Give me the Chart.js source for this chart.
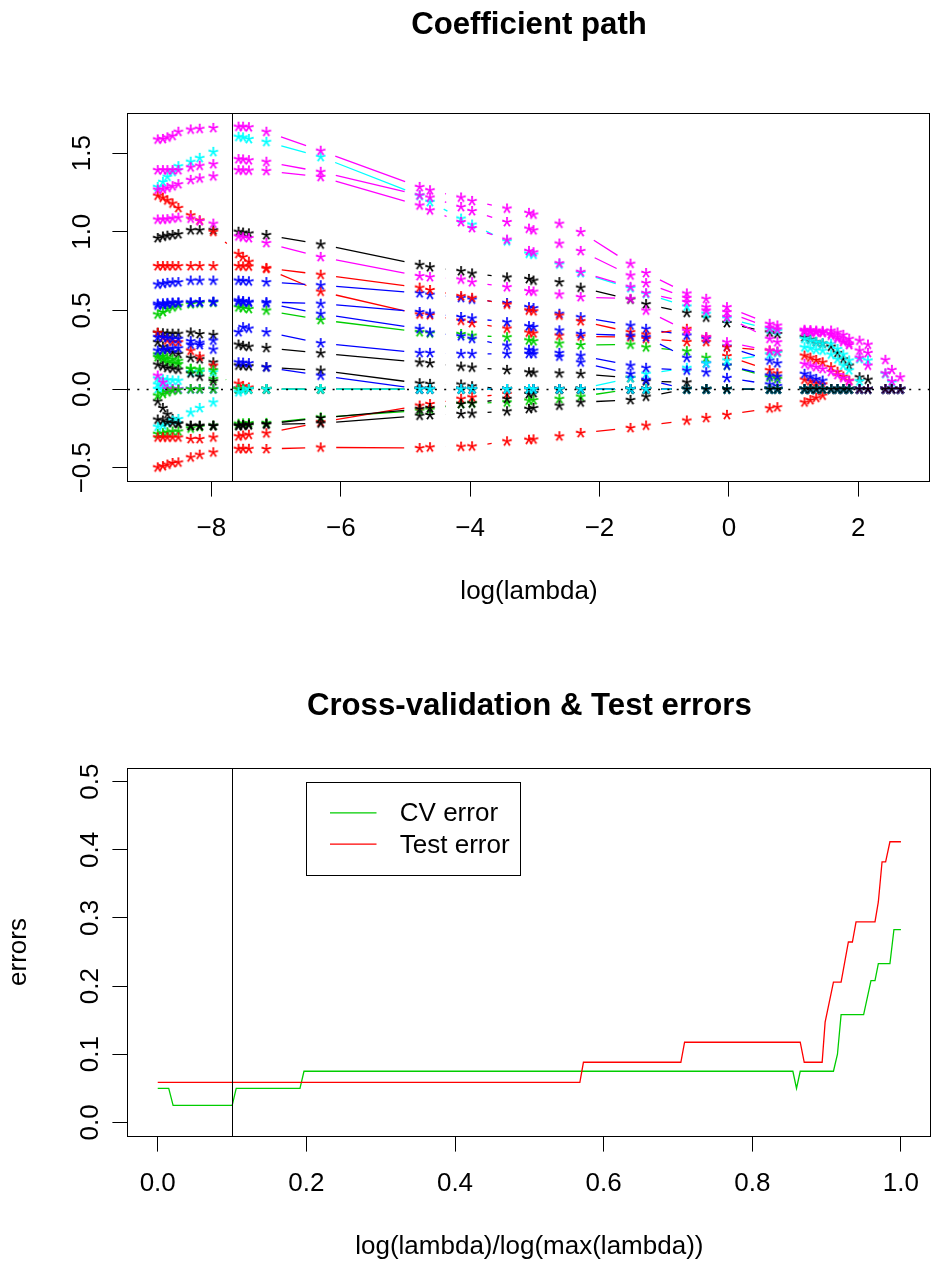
<!DOCTYPE html>
<html><head><meta charset="utf-8">
<script src="https://cdn.jsdelivr.net/npm/chart.js@4.4.1/dist/chart.umd.min.js"></script>
<style>
html,body{margin:0;padding:0;background:#fff;overflow:hidden;width:932px;height:1262px;}
#wrap{position:relative;width:932px;height:1262px;overflow:hidden;background:#fff;}
canvas{position:absolute;left:0;}
#c1{top:0;} #c2{top:631px;}
</style></head><body><div id="wrap"><canvas id="c1" width="936" height="631"></canvas><canvas id="c2" width="936" height="640"></canvas></div>
<script>
// ---------------- DATA : coefficient path ----------------
const logLambda = [-8.83,-8.75,-8.68,-8.60,-8.51, -8.32,-8.18,-7.97, -7.58,-7.51,-7.42, -7.15, -6.31, -4.78,-4.62, -4.14,-3.97, -3.43, -3.09,-3.02, -2.62, -2.29, -1.52, -1.28, -0.65, -0.35, -0.03, 0.63,0.75, 1.17,1.26,1.35,1.45, 1.58,1.68,1.77,1.86, 2.02,2.15, 2.42,2.52,2.65];

const coef01 = [0.96,0.97,0.975,0.98,0.985, 1.01,1.01,1.01, 1.00,0.995,0.99, 0.98, 0.92, 0.79,0.775, 0.75,0.735, 0.71, 0.70,0.69, 0.68, 0.645, 0.57, 0.54, 0.485, 0.455, 0.42, 0.36,0.35, 0.33,0.315,0.30,0.29, 0.27,0.23,0.19,0.15, 0.075,0.06, 0,0,0];
const coef02 = [1.23,1.217,1.20,1.18,1.152, 1.105,1.073,1.00, 0.86,0.84,0.81, 0.765, 0.62, 0.475,0.47, 0.435,0.42, 0.385, 0.36,0.355, 0.34, 0.335, 0.33, 0.32, 0.30, 0.30, 0.21, 0.12,0.10, 0.06,0.05,0.04,0.03, 0,0,0,0, 0,0, 0,0,0];
const coef03 = [0.475,0.49,0.51,0.52,0.53, 0.54,0.545,0.55, 0.52,0.515,0.51, 0.50, 0.44, 0.362,0.355, 0.35,0.34, 0.33, 0.31,0.305, 0.29, 0.28, 0.283, 0.266, 0.241, 0.199, 0.15, 0.075,0.065, 0,0,0,0, 0,0,0,0, 0,0, 0,0,0];
const coef04 = [0.665,0.67,0.675,0.678,0.68, 0.69,0.69,0.69, 0.69,0.688,0.685, 0.68, 0.66, 0.61,0.60, 0.58,0.57, 0.547, 0.521,0.515, 0.479, 0.457, 0.404, 0.383, 0.341, 0.32, 0.27, 0.182,0.164, 0.097,0.08,0.065,0.054, 0,0,0,0, 0,0, 0,0,0];
const coef05 = [1.285,1.317,1.35,1.381,1.417, 1.445,1.47,1.508, 1.604,1.60,1.59, 1.572, 1.476, 1.23,1.19, 1.084,1.046, 0.94, 0.861,0.855, 0.793, 0.738, 0.642, 0.606, 0.525, 0.479, 0.45, 0.38,0.37, 0.32,0.31,0.30,0.29, 0.288,0.255,0.22,0.182, 0.192,0.182, 0.097,0.043,0];
const coef06 = [1.587,1.59,1.60,1.61,1.636, 1.65,1.655,1.66, 1.668,1.668,1.665, 1.636, 1.515, 1.285,1.264, 1.218,1.196, 1.148, 1.12,1.11, 1.052, 0.999, 0.797, 0.738, 0.608, 0.574, 0.521, 0.415,0.404, 0.377,0.375,0.372,0.37, 0.372,0.36,0.345,0.32, 0.308,0.283, 0.186,0.122,0.075];
const coef07 = [0.358,0.355,0.352,0.352,0.352, 0.36,0.35,0.345, 0.283,0.275,0.27, 0.262, 0.228, 0.17,0.165, 0.143,0.137, 0.122, 0.107,0.105, 0.10, 0.097, 0.071, 0.05, 0.043, 0, 0, 0,0, 0,0,0,0, 0,0,0,0, 0,0, 0,0,0];
const coef08 = [0.782,0.782,0.782,0.782,0.782, 0.782,0.782,0.782, 0.782,0.78,0.78, 0.77, 0.727, 0.645,0.63, 0.591,0.58, 0.538, 0.50,0.495, 0.468, 0.432, 0.362, 0.347, 0.383, 0.33, 0.266, 0.245,0.235, 0.213,0.20,0.185,0.17, 0.139,0.11,0.08,0.054, 0,0, 0,0,0];
const coef09 = [0.203,0.19,0.175,0.165,0.16, 0.128,0.11,0.065, 0,0,0, 0, 0, 0,0, 0,0, 0, 0,0, 0, 0, 0, 0, 0, 0, 0, 0,0, 0,0,0,0, 0,0,0,0, 0,0, 0,0,0];
const coef10 = [0.543,0.545,0.548,0.55,0.55, 0.55,0.552,0.555, 0.564,0.56,0.555, 0.553, 0.543, 0.49,0.48, 0.458,0.45, 0.425, 0.40,0.395, 0.373, 0.351, 0.34, 0.33, 0.199, 0.164, 0.15, 0.086,0.08, 0,0,0,0, 0,0,0,0, 0,0, 0,0,0];
const coef11 = [0,0,0,0,0, 0,0,0, 0,0,0, 0, 0, 0,0, 0,0, 0, 0,0, 0, 0, 0.07, 0.097, 0.135, 0.164, 0.182, 0.22,0.23, 0.266,0.26,0.25,0.245, 0.22,0.19,0.15,0.12, 0.05,0, 0,0,0];
const coef12 = [1.392,1.392,1.392,1.392,1.392, 1.41,1.42,1.43, 1.462,1.46,1.455, 1.445, 1.381, 1.232,1.218, 1.158,1.132, 1.062, 1.02,1.01, 0.925, 0.878, 0.723, 0.674, 0.58, 0.521, 0.489, 0.39,0.38, 0.37,0.368,0.365,0.362, 0.35,0.33,0.31,0.29, 0.245,0.23, 0.10,0.05,0];
const coef13 = [0.298,0.27,0.25,0.235,0.224, 0.199,0.19,0.17, 0.15,0.148,0.145, 0.139, 0.118, 0.037,0.033, 0.029,0.018, 0, 0,0, 0, 0, 0, 0, 0, 0, 0, 0,0, 0,0,0,0, 0,0,0,0, 0,0, 0,0,0];
const coef14 = [0.358,0.33,0.31,0.30,0.298, 0.245,0.207,0.15, 0.035,0.02,0.01, 0, 0, 0,0, 0,0, 0, 0,0, 0, 0, 0, 0, 0, 0, 0, 0,0, 0,0,0,0, 0,0,0,0, 0,0, 0,0,0];
const coef15 = [-0.285,-0.28,-0.275,-0.27,-0.269, -0.25,-0.24,-0.232, -0.22,-0.218,-0.216, -0.215, -0.18, -0.137,-0.13, -0.094,-0.09, -0.084, -0.073,-0.07, -0.062, -0.048, 0, 0, 0, 0, 0, 0,0, 0,0,0,0, 0,0,0,0, 0,0, 0,0,0];
const coef16 = [0.532,0.535,0.54,0.545,0.55, 0.55,0.553,0.555, 0.555,0.552,0.55, 0.545, 0.479, 0.383,0.36, 0.336,0.32, 0.277, 0.25,0.245, 0.23, 0.213, 0.15, 0.135, 0.118, 0.107, 0.071, 0.03,0.02, 0,0,0,0, 0,0,0,0, 0,0, 0,0,0];
const coef17 = [0.067,0.062,0.058,0.055,0.054, 0.107,0.11,0.107, 0,0,0, 0, 0, 0,0, 0,0, 0, 0,0, 0, 0, 0, 0, 0, 0, 0, 0,0, 0,0,0,0, 0,0,0,0, 0,0, 0,0,0];
const coef18 = [1.268,1.27,1.28,1.29,1.303, 1.33,1.34,1.353, 1.392,1.39,1.39, 1.387, 1.349, 1.168,1.137, 1.062,1.024, 0.95, 0.878,0.87, 0.80, 0.745, 0.65, 0.61, 0.553, 0.50, 0.457, 0.32,0.298, 0.365,0.362,0.36,0.357, 0.34,0.32,0.30,0.28, 0.20,0.15, 0,0,0];
const coef19 = [0.156,0.145,0.135,0.13,0.124, 0.10,0.08,0.05, 0,0,0, 0, 0, 0,0, 0,0, 0, 0,0, 0, 0, 0, 0, 0, 0, 0, 0,0, 0,0,0,0, 0,0,0,0, 0,0, 0,0,0];
const coef20 = [-0.307,-0.307,-0.307,-0.307,-0.307, -0.317,-0.317,-0.307, -0.30,-0.295,-0.29, -0.281, -0.211, -0.105,-0.095, -0.062,-0.052, -0.031, 0,0, 0, 0, 0, 0, 0, 0, 0, 0,0, 0,0,0,0, 0,0,0,0, 0,0, 0,0,0];
const coef21 = [0.22,0.21,0.20,0.19,0.18, 0.13,0.125,0.12, 0,0,0, 0, 0, 0,0, 0,0, 0, 0,0, 0, 0, 0, 0, 0, 0, 0, 0,0, 0,0,0,0, 0,0,0,0, 0,0, 0,0,0];
const coef22 = [0.245,0.25,0.255,0.258,0.26, 0.283,0.295,0.309, 0.362,0.394,0.385, 0.362, 0.292, 0.23,0.23, 0.224,0.224, 0.224, 0.224,0.224, 0.207, 0.17, 0.097, 0.059, 0, 0, 0, 0,0, 0,0,0,0, 0,0,0,0, 0,0, 0,0,0];
const coef23 = [0.03,0.02,0.01,0,0, 0,0,0, 0,0,0, 0, 0, 0,0, 0,0, 0, 0,0, 0, 0, 0, 0, 0, 0, 0, 0,0, 0,0,0,0, 0,0,0,0, 0,0, 0,0,0];
const coef24 = [0.086,0.043,0,0,0, 0,0,0, 0,0,0, 0, 0, 0,0, 0,0, 0, 0,0, 0, 0, 0, 0, 0, 0, 0, 0,0, 0,0,0,0, 0,0,0,0, 0,0, 0,0,0];
const coef25 = [-0.078,-0.12,-0.16,-0.19,-0.218, -0.232,-0.232,-0.232, -0.23,-0.228,-0.225, -0.222, -0.184, -0.126,-0.12, -0.094,-0.09, -0.062, -0.031,-0.025, 0, 0, 0, 0, 0, 0, 0, 0,0, 0,0,0,0, 0,0,0,0, 0,0, 0,0,0];
const coef26 = [-0.498,-0.49,-0.48,-0.47,-0.466, -0.434,-0.417,-0.402, -0.38,-0.38,-0.38, -0.381, -0.371, -0.375,-0.37, -0.366,-0.364, -0.332, -0.322,-0.32, -0.30, -0.279, -0.247, -0.232, -0.20, -0.183, -0.164, -0.122,-0.115, -0.084,-0.07,-0.055,-0.041, 0,0,0,0, 0,0, 0,0,0];
const coef27 = [-0.041,-0.03,-0.02,-0.01,-0.005, 0,0,0, 0,0,0, 0, 0, 0,0, 0,0, 0, 0,0, 0, 0, 0, 0, 0, 0, 0, 0,0, 0,0,0,0, 0,0,0,0, 0,0, 0,0,0];
const coef28 = [0.33,0.33,0.325,0.32,0.32, 0.305,0.28,0.252, 0.17,0.168,0.165, 0.139, 0.086, 0,0, 0,0, 0, 0,0, 0, 0, 0, 0, 0, 0, 0, 0,0, 0,0,0,0, 0,0,0,0, 0,0, 0,0,0];
const coef29 = [-0.239,-0.23,-0.215,-0.2,-0.19, -0.148,-0.12,-0.084, -0.02,-0.01,0, 0, 0, 0,0, 0,0, 0, 0,0, 0, 0, 0, 0, 0, 0, 0, 0,0, 0,0,0,0, 0,0,0,0, 0,0, 0,0,0];
const coef30 = [1.078,1.078,1.08,1.085,1.09, 1.084,1.068,1.052, 0.971,0.965,0.96, 0.929, 0.84, 0.719,0.712, 0.697,0.68, 0.648, 0.623,0.62, 0.602, 0.585, 0.574, 0.50, 0.37, 0.33, 0.298, 0.245,0.24, 0.16,0.15,0.14,0.128, 0.11,0.09,0.07,0.05, 0,0, 0,0,0];
const coef31 = [-0.194,-0.2,-0.21,-0.215,-0.22, -0.235,-0.235,-0.235, -0.235,-0.233,-0.23, -0.225, -0.218, -0.169,-0.165, -0.158,-0.155, -0.141, -0.126,-0.12, -0.105, -0.084, -0.069, -0.048, 0, 0, 0, 0,0, 0,0,0,0, 0,0,0,0, 0,0, 0,0,0];

const coefSeries = [coef01,coef02,coef03,coef04,coef05,coef06,coef07,coef08,coef09,coef10,coef11,coef12,coef13,coef14,coef15,coef16,coef17,coef18,coef19,coef20,coef21,coef22,coef23,coef24,coef25,coef26,coef27,coef28,coef29,coef30,coef31];
const coefVline = -7.68;
const coefXTicks = [-8,-6,-4,-2,0,2];
const coefXLabels = ['\u22128','\u22126','\u22124','\u22122','0','2'];
const coefYTicks = [-0.5,0,0.5,1,1.5];
const coefYLabels = ['\u22120.5','0.0','0.5','1.0','1.5'];

// ---------------- DATA : errors ----------------
const cvX   = [0, 0.0148, 0.0207, 0.1002, 0.1056, 0.1914, 0.1968, 0.8546, 0.8595, 0.8645, 0.9092, 0.9146, 0.9195, 0.9498, 0.9597, 0.9651, 0.9696, 0.9852, 0.9906, 1.0];
const cvErr = [0.05, 0.05, 0.025, 0.025, 0.05, 0.05, 0.075, 0.075, 0.05, 0.075, 0.075, 0.1, 0.158, 0.158, 0.208, 0.208, 0.233, 0.233, 0.283, 0.283];
const testX   = [0, 0.568, 0.5728, 0.7039, 0.7089, 0.8645, 0.8699, 0.894, 0.898, 0.9092, 0.9195, 0.9293, 0.9347, 0.9396, 0.9651, 0.9696, 0.9746, 0.9794, 0.9852, 1.0];
const testErr = [0.0588, 0.0588, 0.0882, 0.0882, 0.1176, 0.1176, 0.0882, 0.0882, 0.147, 0.2059, 0.2059, 0.2647, 0.2647, 0.2941, 0.2941, 0.3235, 0.3824, 0.3824, 0.4118, 0.4118];
const errVline = 0.1;
const errXTicks = [0,0.2,0.4,0.6,0.8,1.0];
const errXLabels = ['0.0','0.2','0.4','0.6','0.8','1.0'];
const errYTicks = [0,0.1,0.2,0.3,0.4,0.5];
const errYLabels = ['0.0','0.1','0.2','0.3','0.4','0.5'];
const legendLabels = ['CV error','Test error'];

// ---------------- STYLE ----------------
const FONT = '"Liberation Sans", Arial, Helvetica, sans-serif';
Chart.defaults.font.family = FONT;
Chart.defaults.color = '#000';
const PAL = ['#000000','#FF0000','#00CD00','#0000FF','#00FFFF','#FF00FF'];

function starGlyph(color){
  const size = 24;
  const c = document.createElement('canvas');
  c.width = size; c.height = size;
  const g = c.getContext('2d');
  g.font = '28px ' + FONT;
  const m = g.measureText('*');
  const cx = (m.actualBoundingBoxRight - m.actualBoundingBoxLeft)/2;
  const cy = (m.actualBoundingBoxAscent - m.actualBoundingBoxDescent)/2;
  g.fillStyle = color;
  g.fillText('*', size/2 - cx, size/2 + cy);
  return c;
}
const STARS = PAL.map(starGlyph);

function padRange(arrs){
  let lo = Infinity, hi = -Infinity;
  arrs.forEach(a => a.forEach(v => { if (v < lo) lo = v; if (v > hi) hi = v; }));
  const p = (hi - lo) * 0.04;
  return [lo - p, hi + p];
}

const gapLines = {
  id: 'gapLines',
  beforeDatasetsDraw(chart, args, o){
    const ctx = chart.ctx, a = chart.chartArea;
    ctx.save();
    ctx.beginPath(); ctx.rect(a.left, a.top, a.right - a.left, a.bottom - a.top); ctx.clip();
    ctx.lineWidth = o.width;
    chart.data.datasets.forEach((ds, i) => {
      const pts = chart.getDatasetMeta(i).data;
      ctx.strokeStyle = ds.borderColor;
      ctx.beginPath();
      for (let k = 1; k < pts.length; k++){
        const p = pts[k-1], q = pts[k];
        const dx = q.x - p.x, dy = q.y - p.y, d = Math.hypot(dx, dy);
        if (d <= 2*o.gap) continue;
        const f = o.gap / d;
        ctx.moveTo(p.x + dx*f, p.y + dy*f);
        ctx.lineTo(q.x - dx*f, q.y - dy*f);
      }
      ctx.stroke();
    });
    ctx.restore();
  }
};

const refLines = {
  id: 'refLines',
  afterDatasetsDraw(chart, args, o){
    const {ctx, chartArea: a, scales} = chart;
    ctx.save(); ctx.strokeStyle = '#000'; ctx.lineWidth = 1;
    (o.v || []).forEach(v => {
      const px = Math.round(scales.x.getPixelForValue(v)) + 0.5;
      ctx.beginPath(); ctx.moveTo(px, a.top); ctx.lineTo(px, a.bottom); ctx.stroke();
    });
    (o.hDotted || []).forEach(h => {
      const py = Math.round(scales.y.getPixelForValue(h)) + 0.5;
      ctx.setLineDash([2, 7.3]); ctx.lineWidth = 1.3;
      ctx.beginPath(); ctx.moveTo(a.left, py); ctx.lineTo(a.right, py); ctx.stroke();
      ctx.setLineDash([]); ctx.lineWidth = 1;
    });
    ctx.restore();
  }
};

const rBox = {
  id: 'rBox',
  afterDraw(chart){
    const {ctx, chartArea: a} = chart;
    ctx.save(); ctx.strokeStyle = '#000'; ctx.lineWidth = 1;
    ctx.strokeRect(Math.round(a.left) - 0.5, Math.round(a.top) + 0.5, Math.round(a.right - a.left), Math.round(a.bottom - a.top));
    ctx.restore();
  }
};

const rLegend = {
  id: 'rLegend',
  afterDraw(chart, args, o){
    const {ctx, scales} = chart;
    const left = Math.round(scales.x.getPixelForValue(o.x)) + 0.5;
    const top = Math.round(scales.y.getPixelForValue(o.y)) + 0.5;
    ctx.save();
    ctx.fillStyle = '#fff';
    ctx.fillRect(left, top, o.w, o.h);
    ctx.strokeStyle = '#000'; ctx.lineWidth = 1;
    ctx.strokeRect(left, top, o.w, o.h);
    ctx.font = '26px ' + FONT;
    ctx.textBaseline = 'middle'; ctx.textAlign = 'left';
    chart.data.datasets.forEach((ds, i) => {
      const yy = top + o.row0 + i*o.rowH;
      ctx.strokeStyle = ds.borderColor; ctx.lineWidth = 1.3;
      ctx.beginPath(); ctx.moveTo(left + o.lx0, yy); ctx.lineTo(left + o.lx1, yy); ctx.stroke();
      ctx.fillStyle = '#000';
      ctx.fillText(ds.label, left + o.tx, yy + 1.2);
    });
    ctx.restore();
  }
};

function axisCommon(ticksArr, labelsArr, isY){
  return {
    type: 'linear',
    afterBuildTicks: s => { s.ticks = ticksArr.map(v => ({value: v})); },
    grid: { display: true, drawOnChartArea: false, drawTicks: true, tickLength: 15.6, color: '#000', lineWidth: 1 },
    border: { display: false },
    ticks: isY
      ? { callback: (v, i) => labelsArr[i], font: {size: 26}, color: '#000', padding: 4, minRotation: 90, maxRotation: 90, crossAlign: 'center', autoSkip: false }
      : { callback: (v, i) => labelsArr[i], font: {size: 26}, color: '#000', padding: 16.8, minRotation: 0, maxRotation: 0, autoSkip: false }
  };
}

// ---------------- CHART 1 : coefficient path ----------------
const xr1 = padRange([logLambda]);
const yr1 = padRange(coefSeries);
const coefDatasets = coefSeries.map((vals, i) => ({
  label: 'V' + (i + 1),
  data: vals.map((v, k) => ({x: logLambda[k], y: v})),
  borderColor: PAL[i % 6],
  backgroundColor: PAL[i % 6],
  pointStyle: STARS[i % 6],
  pointRadius: 5,
  showLine: false,
  order: coefSeries.length - i
}));

const x1 = axisCommon(coefXTicks, coefXLabels, false);
Object.assign(x1, { position: 'bottom', min: xr1[0], max: xr1[1], afterFit: s => { s.height = 150; },
  title: { display: true, text: 'log(lambda)', font: {size: 26}, color: '#000', padding: {top: 0, bottom: 23.4} } });
const y1 = axisCommon(coefYTicks, coefYLabels, true);
Object.assign(y1, { position: 'left', min: yr1[0], max: yr1[1], afterFit: s => { s.width = 128; } });

new Chart(document.getElementById('c1'), {
  type: 'scatter',
  data: { datasets: coefDatasets },
  options: {
    responsive: false, animation: false, devicePixelRatio: 1, events: [],
    layout: { padding: { left: 0, right: 3, top: 0, bottom: 0 } },
    plugins: {
      legend: { display: false }, tooltip: { enabled: false },
      title: { display: true, fullSize: false, text: 'Coefficient path', color: '#000',
               font: { size: 31.2, weight: 'bold' }, padding: { top: 6.3, bottom: 69.3 } },
      gapLines: { gap: 15.5, width: 1.3 },
      refLines: { v: [coefVline], hDotted: [0] }
    },
    scales: { x: x1, y: y1 }
  },
  plugins: [gapLines, refLines, rBox]
});

// ---------------- CHART 2 : errors ----------------
const x2 = axisCommon(errXTicks, errXLabels, false);
Object.assign(x2, { position: 'bottom', min: -0.04, max: 1.04, afterFit: s => { s.height = 135; },
  title: { display: true, text: 'log(lambda)/log(max(lambda))', font: {size: 26}, color: '#000', padding: {top: 0, bottom: 8.4} } });
const y2 = axisCommon(errYTicks, errYLabels, true);
Object.assign(y2, { position: 'left', min: -0.02, max: 0.52, afterFit: s => { s.width = 128; },
  title: { display: true, text: 'errors', font: {size: 26}, color: '#000', padding: {top: 3, bottom: 0} } });

new Chart(document.getElementById('c2'), {
  type: 'scatter',
  data: { datasets: [
    { label: legendLabels[0], data: cvX.map((x, i) => ({x, y: cvErr[i]})), borderColor: '#00CD00', backgroundColor: '#00CD00', borderWidth: 1.3, pointRadius: 0, showLine: true, tension: 0, order: 2 },
    { label: legendLabels[1], data: testX.map((x, i) => ({x, y: testErr[i]})), borderColor: '#FF0000', backgroundColor: '#FF0000', borderWidth: 1.3, pointRadius: 0, showLine: true, tension: 0, order: 1 }
  ]},
  options: {
    responsive: false, animation: false, devicePixelRatio: 1, events: [],
    layout: { padding: { left: 0, right: 3, top: 0, bottom: 0 } },
    plugins: {
      legend: { display: false }, tooltip: { enabled: false },
      title: { display: true, fullSize: false, text: 'Cross-validation & Test errors', color: '#000',
               font: { size: 31.2, weight: 'bold' }, padding: { top: 56.3, bottom: 43.3 } },
      refLines: { v: [errVline] },
      rLegend: { x: 0.2, y: 0.5, w: 214, h: 93, row0: 30.4, rowH: 31.3, lx0: 23.5, lx1: 70, tx: 93.3 }
    },
    scales: { x: x2, y: y2 }
  },
  plugins: [refLines, rBox, rLegend]
});
</script></body></html>
